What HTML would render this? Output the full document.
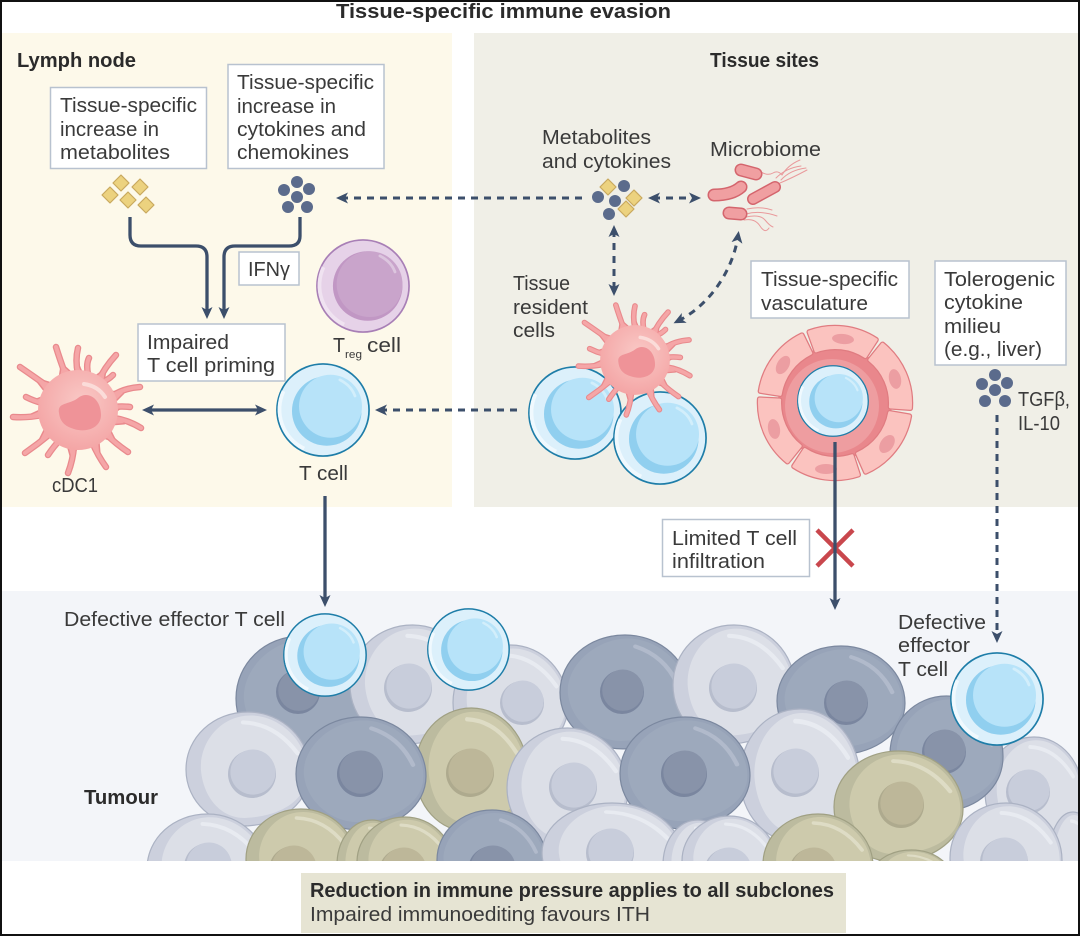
<!DOCTYPE html>
<html lang="en"><head><meta charset="utf-8"><title>Tissue-specific immune evasion</title>
<style>
html,body{margin:0;padding:0;background:#fff}
svg{display:block}
text{font-family:"Liberation Sans",sans-serif;font-size:20px;fill:#3a3a3a}
.b{font-weight:bold;fill:#2b2b2b}
.box{fill:#fff;stroke:#b8c2cf;stroke-width:1.5}
.s{fill:none;stroke:#3c4f6b;stroke-width:3.3}
.d{fill:none;stroke:#3c4f6b;stroke-width:3;stroke-dasharray:7 6}
.dm{fill:#ecd27f;stroke:#c9a95e;stroke-width:1.2;stroke-linejoin:round}
.ci{fill:#5b6b8c}
.ve{vector-effect:non-scaling-stroke}
</style></head><body>
<svg xmlns="http://www.w3.org/2000/svg" width="1080" height="936" viewBox="0 0 1080 936">
<defs>
<marker id="a" markerUnits="userSpaceOnUse" viewBox="0 0 12 12" refX="7" refY="6" markerWidth="12" markerHeight="12" orient="auto-start-reverse"><path d="M0 .5L12 6 0 11.5 3 6Z" fill="#3c4f6b"/></marker>
<clipPath id="tc"><rect x="2" y="591" width="1076" height="270"/></clipPath>
<radialGradient id="dc" cx=".55" cy=".4" r=".6"><stop offset="0" stop-color="#f9c9c6"/><stop offset="1" stop-color="#f4a6a6"/></radialGradient>

<symbol id="tcell" viewBox="-50 -50 100 100" overflow="visible">
<circle r="49" fill="#dcf0fb" stroke="#1e7da8" stroke-width="1.8"/>
<path d="M-42 -20A46 46 0 0 0 -20 41" fill="none" stroke="#f0f9fe" stroke-width="4"/>
<circle cx="4" cy="1" r="37" fill="#90cfef"/>
<circle cx="8" cy="-4" r="33.5" fill="#b7e3f9"/>
<path d="M18 -32Q30 -26 34 -15" fill="none" stroke="#d2eefb" stroke-width="3" stroke-linecap="round"/>
</symbol>
<symbol id="treg" viewBox="-50 -50 100 100" overflow="visible">
<circle r="49" fill="#e6d2e8" stroke="#a87fb6" stroke-width="1.8"/>
<path d="M-42 -20A46 46 0 0 0 -20 41" fill="none" stroke="#f0e3f1" stroke-width="4"/>
<circle cx="5" cy="0" r="37" fill="#c197c4"/>
<circle cx="7" cy="-2" r="35" fill="#c9a4cb"/>
<path d="M18 -32Q30 -26 34 -15" fill="none" stroke="#dcc5de" stroke-width="3" stroke-linecap="round"/>
</symbol>

<symbol id="dc1" viewBox="-70 -70 140 140" overflow="visible">
<path d="M-18-32L-16-45-6-36-4-36 0-45 4-36 8-35 8-40 14-33 16-32 27-40 25-26 23-28 28-29 28-22 32-18 45-17 36-8 36-6 43-3 36 2 36 6 46 13 34 14 31 19 37 31 25 27 20 30 21 42 12 34 0 36-7 46-10 35-17 31-22 34-23 27-27 24-39 32-32 18-36 8-47 5-36 0-36-5-42-10-34-13-32-18-42-31-26-26Z" fill="#e98a8d" stroke="#e98a8d" stroke-width="3" stroke-linejoin="round"/>
<g fill="none" stroke="#e98a8d" stroke-width="6.5" stroke-linecap="round">
<path d="M-12-34Q-18-50-22-63M0-36Q-3-50 0-62M10-36Q8-46 11-52M20-28Q26-42 38-55M24-28Q30-30 35-35M34-14Q46-22 62-23M36-3Q44-4 52-3M36 8Q50 10 63 18M28 24Q38 34 50 42M14 32Q20 46 28 57M-4 36Q-5 50-10 63M-18 30Q-24 36-30 45M-28 24Q-40 34-53 43M-36 5Q-50 8-65 7M-36-7Q-44-9-52-13M-28-22Q-42-32-58-43"/>
</g>
<path d="M-18-32L-16-45-6-36-4-36 0-45 4-36 8-35 8-40 14-33 16-32 27-40 25-26 23-28 28-29 28-22 32-18 45-17 36-8 36-6 43-3 36 2 36 6 46 13 34 14 31 19 37 31 25 27 20 30 21 42 12 34 0 36-7 46-10 35-17 31-22 34-23 27-27 24-39 32-32 18-36 8-47 5-36 0-36-5-42-10-34-13-32-18-42-31-26-26Z" fill="#f5a6a7"/>
<g fill="none" stroke="#f5a6a7" stroke-width="4" stroke-linecap="round">
<path d="M-12-34Q-18-50-22-63M0-36Q-3-50 0-62M10-36Q8-46 11-52M20-28Q26-42 38-55M24-28Q30-30 35-35M34-14Q46-22 62-23M36-3Q44-4 52-3M36 8Q50 10 63 18M28 24Q38 34 50 42M14 32Q20 46 28 57M-4 36Q-5 50-10 63M-18 30Q-24 36-30 45M-28 24Q-40 34-53 43M-36 5Q-50 8-65 7M-36-7Q-44-9-52-13M-28-22Q-42-32-58-43"/>
</g>
<circle r="40" fill="url(#dc)"/>
<path d="M-19 3C-21-8-9-5 0-12 10-20 23-11 23 5 23 18 8 23-4 19-14 16-18 11-19 3Z" fill="#ef9398"/>
<path d="M6-26Q20-24 27-13" fill="none" stroke="#fbdcd9" stroke-width="4" stroke-linecap="round"/>
</symbol>

<symbol id="cd" viewBox="0 0 100 100" preserveAspectRatio="none" overflow="visible">
<path class="ve" d="M50 0C78 0 100 24 100 52 100 78 78 97 50 99 22 100 0 78 0 50 0 22 22 0 50 0Z" fill="#97a3b8" stroke="#7b889f" stroke-width="1.2"/>
<path d="M52 3C76 3 98 26 98 52 98 74 78 90 50 92 30 94 8 76 6 50 5 26 28 3 52 3Z" fill="#9da9bc"/>
<path d="M58 10Q80 18 90 42" fill="none" stroke="#b1bacb" stroke-width="3.5" stroke-linecap="round"/>
</symbol>
<symbol id="cl" viewBox="0 0 100 100" preserveAspectRatio="none" overflow="visible">
<path class="ve" d="M50 0C78 0 100 24 100 52 100 78 78 97 50 99 22 100 0 78 0 50 0 22 22 0 50 0Z" fill="#ccd0dd" stroke="#abb2c3" stroke-width="1.2"/>
<path d="M52 3C76 3 98 26 98 52 98 76 78 90 50 92 30 94 14 76 12 50 11 26 28 3 52 3Z" fill="#dcdfe7"/>
<path d="M46 9Q72 10 90 36" fill="none" stroke="#e8ebf1" stroke-width="3.5" stroke-linecap="round"/>
</symbol>
<symbol id="co" viewBox="0 0 100 100" preserveAspectRatio="none" overflow="visible">
<path class="ve" d="M50 0C78 0 100 24 100 52 100 78 78 97 50 99 22 100 0 78 0 50 0 22 22 0 50 0Z" fill="#bcbb9f" stroke="#a0a083" stroke-width="1.2"/>
<path d="M52 3C76 3 98 26 98 52 98 76 78 90 50 92 30 94 14 76 12 50 11 26 28 3 52 3Z" fill="#cdcaac"/>
<path d="M46 9Q72 10 90 36" fill="none" stroke="#dedcc5" stroke-width="3.5" stroke-linecap="round"/>
</symbol>
<symbol id="nd" viewBox="0 0 100 100" overflow="visible"><circle cx="50" cy="50" r="50" fill="#7a869f"/><circle cx="52" cy="46" r="47" fill="#8893a9"/></symbol>
<symbol id="nl" viewBox="0 0 100 100" overflow="visible"><circle cx="50" cy="50" r="50" fill="#b7bdcd"/><circle cx="52" cy="46" r="47" fill="#c8cddb"/></symbol>
<symbol id="no" viewBox="0 0 100 100" overflow="visible"><circle cx="50" cy="50" r="50" fill="#aeaa8e"/><circle cx="52" cy="46" r="47" fill="#bdb799"/></symbol>
</defs>

<rect width="1080" height="936" fill="#fff"/>
<rect x="2" y="33" width="450" height="474" fill="#fdf9ea"/>
<rect x="474" y="33" width="604" height="474" fill="#f0efe7"/>
<rect x="2" y="591" width="1076" height="270" fill="#f3f5f9"/>

<!-- tumour -->
<g clip-path="url(#tc)">
<use href="#cd" x="236" y="636" width="131" height="125"/><use href="#nd" x="276" y="670" width="44" height="44"/>
<use href="#cl" x="350" y="625" width="125" height="120"/><use href="#nl" x="384" y="664" width="48" height="48"/>
<use href="#cl" x="453" y="645" width="115" height="115"/><use href="#nl" x="500" y="681" width="44" height="44"/>
<use href="#cd" x="560" y="635" width="130" height="115"/><use href="#nd" x="600" y="670" width="44" height="44"/>
<use href="#cl" x="673" y="625" width="122" height="120"/><use href="#nl" x="709" y="664" width="48" height="48"/>
<use href="#cd" x="777" y="646" width="128" height="110"/><use href="#nd" x="824" y="681" width="44" height="44"/>
<use href="#cl" x="985" y="737" width="98" height="110"/><use href="#nl" x="1006" y="770" width="44" height="44"/>
<use href="#cd" x="890" y="696" width="113" height="116"/><use href="#nd" x="922" y="730" width="44" height="44"/>

<use href="#cl" x="186" y="712" width="124" height="115"/><use href="#nl" x="228" y="750" width="48" height="48"/>
<use href="#co" x="415" y="708" width="113" height="125"/><use href="#no" x="446" y="749" width="48" height="48"/>
<use href="#cd" x="296" y="717" width="130" height="114"/><use href="#nd" x="337" y="751" width="46" height="46"/>
<use href="#cl" x="507" y="728" width="121" height="120"/><use href="#nl" x="549" y="763" width="48" height="48"/>
<use href="#cl" x="740" y="709" width="120" height="135"/><use href="#nl" x="771" y="749" width="48" height="48"/>
<use href="#cd" x="620" y="717" width="130" height="113"/><use href="#nd" x="661" y="751" width="46" height="46"/>
<use href="#co" x="834" y="751" width="129" height="112"/><use href="#no" x="878" y="782" width="46" height="46"/>

<use href="#cl" x="147" y="814" width="121" height="110"/><use href="#nl" x="184" y="843" width="48" height="48"/>
<use href="#co" x="246" y="809" width="110" height="100"/><use href="#no" x="269" y="846" width="48" height="48"/>
<use href="#co" x="337" y="820" width="70" height="90"/>
<use href="#co" x="357" y="817" width="96" height="90"/><use href="#no" x="379" y="848" width="48" height="48"/>
<use href="#cd" x="437" y="810" width="110" height="100"/><use href="#nd" x="468" y="846" width="48" height="48"/>
<use href="#cl" x="542" y="803" width="140" height="100"/><use href="#nl" x="586" y="829" width="48" height="48"/>
<use href="#cl" x="663" y="820" width="70" height="90"/>
<use href="#cl" x="682" y="816" width="95" height="90"/><use href="#nl" x="704" y="848" width="48" height="48"/>
<use href="#co" x="763" y="814" width="110" height="100"/><use href="#no" x="789" y="848" width="48" height="48"/>
<use href="#co" x="870" y="850" width="83" height="60"/>
<use href="#cl" x="1048" y="812" width="50" height="100"/>
<use href="#cl" x="950" y="803" width="112" height="110"/><use href="#nl" x="980" y="838" width="48" height="48"/>
</g>

<!-- connectors -->
<path class="s" d="M130 217V235Q130 246 141 246H196Q207 246 207 257V314" marker-end="url(#a)"/>
<path class="s" d="M300 217V236Q300 246 289 246H235Q224 246 224 257V314" marker-end="url(#a)"/>
<path class="s" d="M147 410H262" marker-start="url(#a)" marker-end="url(#a)"/>
<path class="s" d="M325 496V602" marker-end="url(#a)"/>
<path class="d" d="M341 198H583" marker-start="url(#a)"/>
<path class="d" d="M380 410H518" marker-start="url(#a)"/>
<path class="d" d="M653 198H696" stroke-dasharray="7 5" marker-start="url(#a)" marker-end="url(#a)"/>
<path class="d" d="M614 230V291" marker-start="url(#a)" marker-end="url(#a)"/>
<path class="d" d="M678 321C710 305 733 270 738 236" marker-start="url(#a)" marker-end="url(#a)"/>
<path class="d" d="M997 415V638" stroke-dasharray="8 5" marker-end="url(#a)"/>

<!-- molecules -->
<g class="dm">
<path d="M121 175l8 8-8 8-8-8Z"/><path d="M140 179l8 8-8 8-8-8Z"/><path d="M110 187l8 8-8 8-8-8Z"/><path d="M128 192l8 8-8 8-8-8Z"/><path d="M146 197l8 8-8 8-8-8Z"/>
<path d="M608 179l8 8-8 8-8-8Z"/><path d="M634 190l8 8-8 8-8-8Z"/><path d="M626 201l8 8-8 8-8-8Z"/>
</g>
<g class="ci">
<circle cx="297" cy="182" r="6"/><circle cx="309" cy="189" r="6"/><circle cx="284" cy="190" r="6"/><circle cx="297" cy="197" r="6"/><circle cx="288" cy="207" r="6"/><circle cx="307" cy="207" r="6"/>
<circle cx="624" cy="186" r="6"/><circle cx="598" cy="197" r="6"/><circle cx="615" cy="201" r="6"/><circle cx="609" cy="214" r="6"/>
<circle cx="995" cy="375" r="6"/><circle cx="982" cy="384" r="6"/><circle cx="1007" cy="383" r="6"/><circle cx="995" cy="390" r="6"/><circle cx="985" cy="401" r="6"/><circle cx="1005" cy="401" r="6"/>
</g>

<!-- microbiome -->
<g fill="none" stroke="#e99a9c" stroke-width="1" stroke-linecap="round">
<path d="M761 172Q768 176 773 173T782 175Q788 165 800 160"/><path d="M781 180Q790 170 806 168"/><path d="M780 183Q792 178 807 170"/><path d="M776 178Q786 168 801 166"/>
<path d="M747 209Q760 206 772 210"/><path d="M746 214Q760 210 777 216"/><path d="M746 217Q760 214 765 220T773 227"/><path d="M744 220Q755 218 760 226T769 228"/>
</g>
<g fill="none" stroke-linecap="round">
<path d="M741 170L756 174" stroke="#d4656d" stroke-width="13"/><path d="M741 170L756 174" stroke="#f09fa1" stroke-width="10"/>
<path d="M714 195Q732 195 741 187" stroke="#d4656d" stroke-width="13"/><path d="M714 195Q732 195 741 187" stroke="#f09fa1" stroke-width="10"/>
<path d="M753 199L775 187" stroke="#d4656d" stroke-width="12"/><path d="M753 199L775 187" stroke="#f09fa1" stroke-width="9"/>
<path d="M729 213L741 214" stroke="#d4656d" stroke-width="13"/><path d="M729 213L741 214" stroke="#f09fa1" stroke-width="10"/>
</g>

<!-- cells -->
<use href="#treg" x="316" y="239" width="94" height="94"/>
<use href="#tcell" x="276" y="363" width="94" height="94"/>
<use href="#dc1" x="8" y="340" width="140" height="140"/>
<use href="#tcell" x="528" y="366" width="94" height="94"/>
<use href="#tcell" x="613" y="391" width="94" height="94"/>
<use href="#dc1" x="574" y="299" width="122" height="122"/>

<!-- vasculature -->
<g transform="translate(835 403)">
<circle r="57" fill="#e9878c"/>
<circle cx="-3" cy="3" r="47" fill="#ee9da0"/>
<g fill="#fbc3bf" stroke="#e07c81" stroke-width="5.5" stroke-linejoin="round">
<path d="M-25.8-71A75.5 75.5 0 0 1 41.1-63.3L30.2-46.6A55.5 55.5 0 0 0-19-52.2Z"/>
<path d="M47.5-58.7A75.5 75.5 0 0 1 75.3 5.3L55.4 3.9A55.5 55.5 0 0 0 34.9-43.1Z"/>
<path d="M74.4 13.1A75.5 75.5 0 0 1 30.7 69L22.6 50.7A55.5 55.5 0 0 0 54.7 9.7Z"/>
<path d="M23.3 71.8A75.5 75.5 0 0 1-41.1 63.3L-30.2 46.6A55.5 55.5 0 0 0 17.1 52.8Z"/>
<path d="M-47.5 58.7A75.5 75.5 0 0 1-75.4-3.9L-55.4-2.9A55.5 55.5 0 0 0-34.9 43.1Z"/>
<path d="M-74.6-11.8A75.5 75.5 0 0 1-33.1-67.9L-24.3-49.9A55.5 55.5 0 0 0-54.8-8.7Z"/>
</g>
<g fill="#fbc3bf" stroke="#fbc3bf" stroke-width="3" stroke-linejoin="round">
<path d="M-25.8-71A75.5 75.5 0 0 1 41.1-63.3L30.2-46.6A55.5 55.5 0 0 0-19-52.2Z"/>
<path d="M47.5-58.7A75.5 75.5 0 0 1 75.3 5.3L55.4 3.9A55.5 55.5 0 0 0 34.9-43.1Z"/>
<path d="M74.4 13.1A75.5 75.5 0 0 1 30.7 69L22.6 50.7A55.5 55.5 0 0 0 54.7 9.7Z"/>
<path d="M23.3 71.8A75.5 75.5 0 0 1-41.1 63.3L-30.2 46.6A55.5 55.5 0 0 0 17.1 52.8Z"/>
<path d="M-47.5 58.7A75.5 75.5 0 0 1-75.4-3.9L-55.4-2.9A55.5 55.5 0 0 0-34.9 43.1Z"/>
<path d="M-74.6-11.8A75.5 75.5 0 0 1-33.1-67.9L-24.3-49.9A55.5 55.5 0 0 0-54.8-8.7Z"/>
</g>
<g fill="#ec9ea2">
<ellipse cx="8" cy="-64" rx="11" ry="5" transform="rotate(5 8 -64)"/>
<ellipse cx="60" cy="-24" rx="6" ry="10" transform="rotate(-12 60 -24)"/>
<ellipse cx="52" cy="41" rx="6.5" ry="10" transform="rotate(35 52 41)"/>
<ellipse cx="-9" cy="66" rx="11" ry="5"/>
<ellipse cx="-61" cy="26" rx="6" ry="10" transform="rotate(-10 -61 26)"/>
<ellipse cx="-52" cy="-38" rx="6" ry="10" transform="rotate(30 -52 -38)"/>
</g>
</g>
<use href="#tcell" x="797" y="365" width="72" height="72"/>

<!-- cross + vertical -->
<path d="M817 530L853 566M853 530L817 566" stroke="#c9474d" stroke-width="4.5" fill="none"/>
<path class="s" d="M835 442V605" marker-end="url(#a)"/>

<!-- tumour T cells -->
<use href="#tcell" x="283" y="613" width="84" height="84"/>
<use href="#tcell" x="427" y="608" width="83" height="83"/>
<use href="#tcell" x="950" y="652" width="94" height="94"/>

<!-- boxes -->
<rect class="box" x="50.5" y="87.5" width="156" height="81"/>
<rect class="box" x="228" y="64.5" width="156" height="104"/>
<rect class="box" x="239" y="252" width="60" height="33"/>
<rect class="box" x="138" y="324" width="147" height="57"/>
<rect class="box" x="751" y="261" width="158" height="57"/>
<rect class="box" x="935" y="261" width="131" height="104"/>
<rect class="box" x="662.5" y="519.5" width="147" height="57"/>
<rect x="301" y="873" width="545" height="60" fill="#e6e4d3"/>

<!-- text -->
<text class="b" x="336" y="18" textLength="335" lengthAdjust="spacingAndGlyphs">Tissue-specific immune evasion</text>
<text class="b" x="17" y="67" textLength="119" lengthAdjust="spacingAndGlyphs">Lymph node</text>
<text class="b" x="710" y="67" textLength="109" lengthAdjust="spacingAndGlyphs">Tissue sites</text>
<text class="b" x="84" y="804" textLength="74" lengthAdjust="spacingAndGlyphs">Tumour</text>
<text x="60" y="112" textLength="137" lengthAdjust="spacingAndGlyphs">Tissue-specific</text>
<text x="60" y="136" textLength="99" lengthAdjust="spacingAndGlyphs">increase in</text>
<text x="60" y="159" textLength="110" lengthAdjust="spacingAndGlyphs">metabolites</text>
<text x="237" y="89" textLength="137" lengthAdjust="spacingAndGlyphs">Tissue-specific</text>
<text x="237" y="113" textLength="99" lengthAdjust="spacingAndGlyphs">increase in</text>
<text x="237" y="136" textLength="129" lengthAdjust="spacingAndGlyphs">cytokines and</text>
<text x="237" y="159" textLength="112" lengthAdjust="spacingAndGlyphs">chemokines</text>
<text x="248" y="276" textLength="42" lengthAdjust="spacingAndGlyphs">IFNγ</text>
<text x="147" y="349" textLength="82" lengthAdjust="spacingAndGlyphs">Impaired</text>
<text x="147" y="372" textLength="128" lengthAdjust="spacingAndGlyphs">T cell priming</text>
<text x="333" y="352" textLength="12" lengthAdjust="spacingAndGlyphs">T</text>
<text x="345" y="358" style="font-size:11px" textLength="17" lengthAdjust="spacingAndGlyphs">reg</text>
<text x="367" y="352" textLength="34" lengthAdjust="spacingAndGlyphs">cell</text>
<text x="52" y="492" textLength="46" lengthAdjust="spacingAndGlyphs">cDC1</text>
<text x="299" y="480" textLength="49" lengthAdjust="spacingAndGlyphs">T cell</text>
<text x="542" y="144" textLength="109" lengthAdjust="spacingAndGlyphs">Metabolites</text>
<text x="542" y="168" textLength="129" lengthAdjust="spacingAndGlyphs">and cytokines</text>
<text x="710" y="156" textLength="111" lengthAdjust="spacingAndGlyphs">Microbiome</text>
<text x="513" y="290" textLength="57" lengthAdjust="spacingAndGlyphs">Tissue</text>
<text x="513" y="314" textLength="75" lengthAdjust="spacingAndGlyphs">resident</text>
<text x="513" y="337" textLength="42" lengthAdjust="spacingAndGlyphs">cells</text>
<text x="761" y="286" textLength="137" lengthAdjust="spacingAndGlyphs">Tissue-specific</text>
<text x="761" y="310" textLength="107" lengthAdjust="spacingAndGlyphs">vasculature</text>
<text x="944" y="286" textLength="111" lengthAdjust="spacingAndGlyphs">Tolerogenic</text>
<text x="944" y="309" textLength="79" lengthAdjust="spacingAndGlyphs">cytokine</text>
<text x="944" y="333" textLength="57" lengthAdjust="spacingAndGlyphs">milieu</text>
<text x="944" y="356" textLength="98" lengthAdjust="spacingAndGlyphs">(e.g., liver)</text>
<text x="1018" y="406" textLength="52" lengthAdjust="spacingAndGlyphs">TGFβ,</text>
<text x="1018" y="430" textLength="42" lengthAdjust="spacingAndGlyphs">IL-10</text>
<text x="672" y="545" textLength="125" lengthAdjust="spacingAndGlyphs">Limited T cell</text>
<text x="672" y="568" textLength="93" lengthAdjust="spacingAndGlyphs">infiltration</text>
<text x="64" y="626" textLength="221" lengthAdjust="spacingAndGlyphs">Defective effector T cell</text>
<text x="898" y="629" textLength="88" lengthAdjust="spacingAndGlyphs">Defective</text>
<text x="898" y="652" textLength="72" lengthAdjust="spacingAndGlyphs">effector</text>
<text x="898" y="676" textLength="50" lengthAdjust="spacingAndGlyphs">T cell</text>
<text class="b" x="310" y="897" textLength="524" lengthAdjust="spacingAndGlyphs">Reduction in immune pressure applies to all subclones</text>
<text x="310" y="921" textLength="340" lengthAdjust="spacingAndGlyphs">Impaired immunoediting favours ITH</text>

<!-- frame -->
<rect x="1" y="1" width="1078" height="934" fill="none" stroke="#111" stroke-width="2"/>
</svg>
</body></html>
